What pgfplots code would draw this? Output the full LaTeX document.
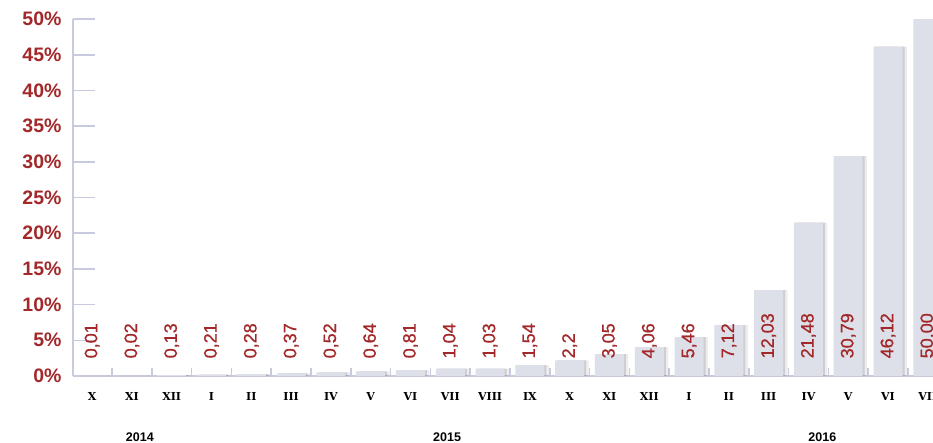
\documentclass[border=0pt]{standalone}
\usepackage{fontspec}
\setmainfont{Liberation Sans}
\newfontfamily\monthfont{DejaVu Serif}
\newfontfamily\valfont[FakeBold=0.9]{Liberation Sans}
\usepackage{pgfplots}
\usepackage{pgfplotstable}
\pgfplotsset{compat=1.18}

\definecolor{barfill}{RGB}{221,223,233}
\definecolor{axisline}{RGB}{200,203,221}
\definecolor{valred}{RGB}{163,40,42}
\definecolor{shadowgray}{RGB}{110,110,120}

% monthly share, %
\pgfplotstableread{
idx val   lab
0   0.01  0,01
1   0.02  0,02
2   0.13  0,13
3   0.21  0,21
4   0.28  0,28
5   0.37  0,37
6   0.52  0,52
7   0.64  0,64
8   0.81  0,81
9   1.04  1,04
10  1.03  1,03
11  1.54  1,54
12  2.2   2,2
13  3.05  3,05
14  4.06  4,06
15  5.46  5,46
16  7.12  7,12
17  12.03 12,03
18  21.48 21,48
19  30.79 30,79
20  46.12 46,12
21  50.00 50,00
}\datatable

\begin{document}
\begin{tikzpicture}[x=1pt,y=1pt]
\useasboundingbox (0,0) rectangle (933,442);
\begin{axis}[
  at={(73pt,66pt)}, anchor=south west,
  scale only axis, width=860pt, height=357pt,
  xmin=-0.48, xmax=21.13, ymin=0, ymax=50,
  clip mode=individual,
  axis x line*=bottom, axis y line*=left,
  axis line style={axisline, line width=1.6pt, -},
  tick align=inside,
  major tick length=22pt, minor tick length=8pt,
  tick style={axisline, line width=1.6pt},
  every major x tick/.style={draw=none},
  xtick={0,...,21},
  minor xtick={0.5,1.5,...,20.5},
  xticklabels={X,XI,XII,I,II,III,IV,V,VI,VII,VIII,IX,X,XI,XII,I,II,III,IV,V,VI,VII},
  xticklabel style={font=\monthfont\bfseries\fontsize{11}{11}\selectfont, text=black, yshift=-13pt},
  ytick={0,5,...,50},
  yticklabels={0\%,5\%,10\%,15\%,20\%,25\%,30\%,35\%,40\%,45\%,50\%},
  yticklabel style={font=\bfseries\fontsize{19.5}{20}\selectfont, text=valred, xshift=-8pt},
]
% soft shadow to the right of each bar
\addplot[ybar, bar width=29pt, bar shift=4.5pt, draw=none, fill=shadowgray, fill opacity=0.12]
  table[x=idx, y=val]{\datatable};
\addplot[ybar, bar width=29pt, bar shift=2pt, draw=none, fill=shadowgray, fill opacity=0.25]
  table[x=idx, y=val]{\datatable};
% bars
\addplot[ybar, bar width=29pt, bar shift=0pt, draw=none, fill=barfill]
  table[x=idx, y=val]{\datatable};
% value labels, set upright just above the axis
\addplot[draw=none, mark=none, nodes near coords, point meta=explicit symbolic,
  nodes near coords style={rotate=90, anchor=west, text=valred, inner sep=0pt,
    font=\valfont\fontsize{18}{18}\selectfont}]
  table[x=idx, y expr=2.45, meta=lab]{\datatable};

\node[font=\bfseries\fontsize{12.5}{12.5}\selectfont, yshift=-61pt] at (axis cs:1.2,0) {2014};
\node[font=\bfseries\fontsize{12.5}{12.5}\selectfont, yshift=-61pt] at (axis cs:8.92,0) {2015};
\node[font=\bfseries\fontsize{12.5}{12.5}\selectfont, yshift=-61pt] at (axis cs:18.35,0) {2016};
\end{axis}
\end{tikzpicture}
\end{document}
